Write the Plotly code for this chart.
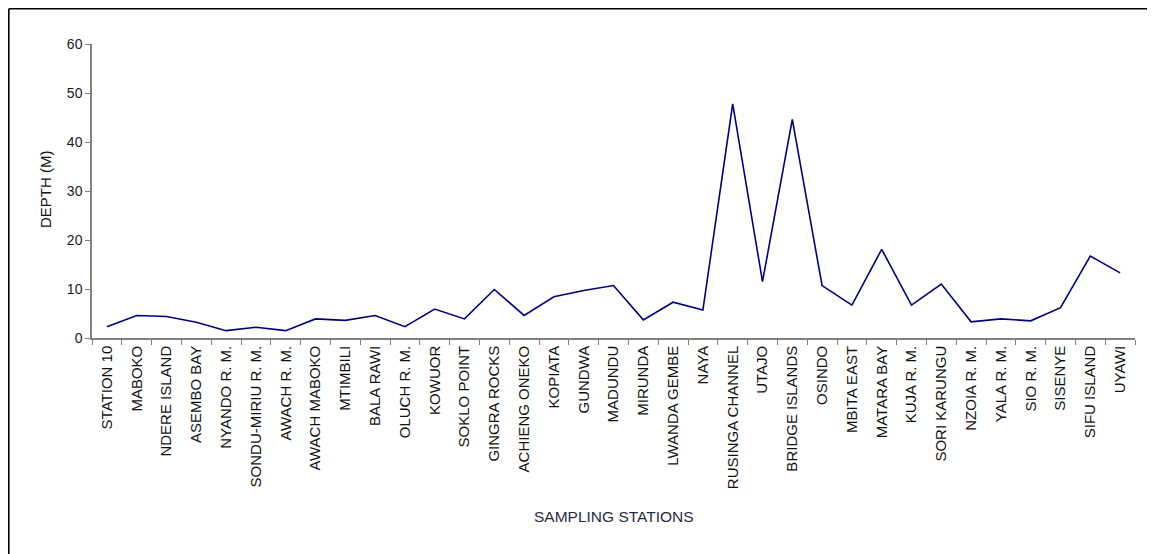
import plotly.graph_objects as go

stations = [
    "STATION 10", "MABOKO", "NDERE ISLAND", "ASEMBO BAY", "NYANDO R. M.",
    "SONDU-MIRIU R. M.", "AWACH R. M.", "AWACH MABOKO", "MTIMBILI", "BALA RAWI",
    "OLUCH R. M.", "KOWUOR", "SOKLO POINT", "GINGRA ROCKS", "ACHIENG ONEKO",
    "KOPIATA", "GUNDWA", "MADUNDU", "MIRUNDA", "LWANDA GEMBE", "NAYA",
    "RUSINGA CHANNEL", "UTAJO", "BRIDGE ISLANDS", "OSINDO", "MBITA EAST",
    "MATARA BAY", "KUJA R. M.", "SORI KARUNGU", "NZOIA R. M.", "YALA R. M.",
    "SIO R. M.", "SISENYE", "SIFU ISLAND", "UYAWI",
]
depth = [
    2.3, 4.6, 4.4, 3.2, 1.5, 2.2, 1.5, 3.9, 3.6, 4.6,
    2.3, 5.9, 3.9, 9.9, 4.6, 8.4, 9.7, 10.7, 3.7, 7.3, 5.7,
    47.8, 11.5, 44.6, 10.7, 6.7, 18.1, 6.7, 11.0, 3.3, 3.9,
    3.5, 6.2, 16.7, 13.3,
]
y_ticks = [0, 10, 20, 30, 40, 50, 60]

OFF = 8  # page body margin
W, H = 1155 - OFF, 554 - OFF
L, R, T, B = 92, 1135, 44, 338  # target pixel positions in the page

def px_x(p):
    return (p - L) / (R - L)

def px_y(p):
    return (B - p) / (B - T)

fig = go.Figure()
fig.add_trace(go.Scatter(
    x=stations, y=depth, mode="lines",
    line=dict(color="#000080", width=1.6),
    hoverinfo="x+y", showlegend=False,
))

font = "Liberation Sans, Arial, sans-serif"
fig.update_layout(
    width=W, height=H,
    margin=dict(l=L - OFF, r=W - (R - OFF), t=T - OFF, b=H - (B - OFF), autoexpand=False),
    paper_bgcolor="white", plot_bgcolor="white",
    font=dict(family=font, size=14, color="#1a1a2a"),
    xaxis=dict(
        type="category", range=[-0.5, len(stations) - 0.5],
        showgrid=False, zeroline=False,
        showline=True, linecolor="#808080", linewidth=1.5,
        ticks="outside", ticklen=5, tickcolor="#808080", tickwidth=1,
        tickmode="array", tickvals=list(range(len(stations))),
        ticktext=stations, tickson="boundaries",
        tickangle=-90, tickfont=dict(size=15, family=font, color="#111111"),
    ),
    yaxis=dict(
        range=[0, 60], tickvals=y_ticks,
        showgrid=False, zeroline=False,
        showline=True, linecolor="#808080", linewidth=1.5,
        ticks="outside", ticklen=5, tickcolor="#808080", tickwidth=1,
        tickfont=dict(size=14, family=font, color="#1a1a2a"),
    ),
    annotations=[
        dict(text="DEPTH (M)", xref="paper", yref="paper",
             x=px_x(45), y=px_y(189), textangle=-90, showarrow=False,
             xanchor="center", yanchor="middle",
             font=dict(size=15, family=font, color="#111111")),
        dict(text="SAMPLING STATIONS", xref="paper", yref="paper",
             x=px_x(614), y=px_y(516), showarrow=False,
             xanchor="center", yanchor="middle",
             font=dict(size=15.5, family=font, color="#2a2a40")),
    ],
    shapes=[
        dict(type="line", xref="paper", yref="paper",
             x0=px_x(8.8), x1=px_x(8.8), y0=px_y(8.8), y1=px_y(560),
             line=dict(color="black", width=1.6)),
        dict(type="line", xref="paper", yref="paper",
             x0=px_x(8.8), x1=px_x(1148), y0=px_y(8.8), y1=px_y(8.8),
             line=dict(color="black", width=1.6)),
    ],
)

fig.write_html("out.html")
